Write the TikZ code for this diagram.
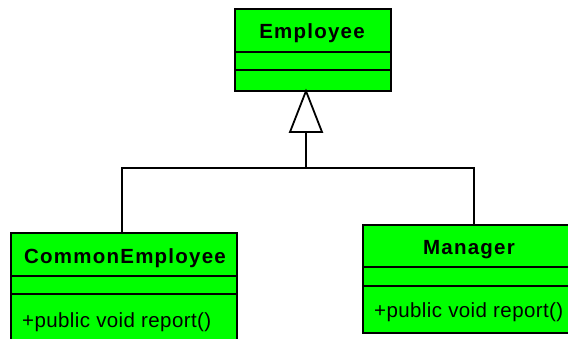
\documentclass[tikz,border=0pt]{standalone}
\usepackage{fontspec}
\setmainfont{Liberation Sans}
\definecolor{umlgreen}{HTML}{00FF00}
\begin{document}
\begin{tikzpicture}[x=1pt,y=-1pt,
  box/.style={draw=black, fill=umlgreen, line width=1.8pt, inner sep=0pt, anchor=north west},
  cline/.style={draw=black, line width=1.8pt},
  conn/.style={draw=black, line width=1.8pt},
  cname/.style={font=\fontsize{20.5}{22}\selectfont\bfseries\addfontfeature{LetterSpace=6}, anchor=base, inner sep=0pt},
  meth/.style={font=\fontsize{20.5}{22}\selectfont\addfontfeature{LetterSpace=2}, anchor=base west, inner sep=0pt}
]
\useasboundingbox (0,0) rectangle (568,338);
\clip (0,0) rectangle (568,338);
\fill[white] (0,0) rectangle (568,338);

% Employee
\node[box, minimum width=156pt, minimum height=82pt] (emp) at (234,8) {};
\draw[cline] (234,52) -- (392,52);
\draw[cline] (234,70) -- (392,70);
\node[cname] (empname) at (312,38.5) {Employee};

% CommonEmployee
\node[box, minimum width=226pt, minimum height=120pt] (com) at (10,232) {};
\draw[cline] (10,276) -- (238,276);
\draw[cline] (10,294) -- (238,294);
\node[cname] (comname) at (125,263.5) {CommonEmployee};
\node[meth] (commeth) at (22,327) {+public void report()};

% Manager
\node[box, minimum width=216pt, minimum height=108pt] (man) at (362,224) {};
\draw[cline] (362,267) -- (580,267);
\draw[cline] (362,286) -- (580,286);
\node[cname] (manname) at (469,254.5) {Manager};
\node[meth] (manmeth) at (374,317) {+public void report()};

% Generalization
\coordinate (apex) at (306,91);
\coordinate (basel) at (290,132);
\coordinate (baser) at (322,132);
\coordinate (basec) at (306,132);
\coordinate (hub) at (306,168);
\coordinate (comtop) at (122,232);
\coordinate (mantop) at (474,224);
\draw[conn] (basec) -- (hub);
\draw[conn] (comtop) |- (hub);
\draw[conn] (mantop) |- (hub);
\draw[conn, fill=white, line join=miter] (apex) -- (basel) -- (baser) -- cycle;
\end{tikzpicture}
\end{document}
